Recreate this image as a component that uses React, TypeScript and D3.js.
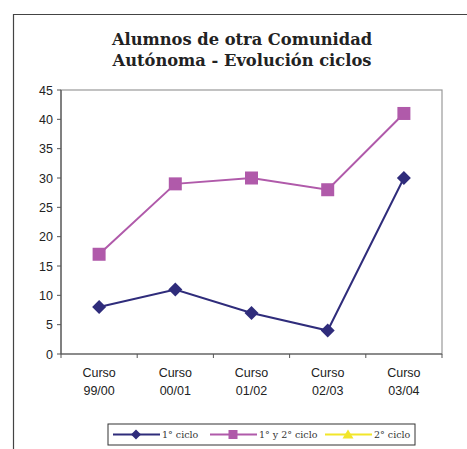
import React from "react";
import * as d3 from "d3";

const categories = ["Curso 99/00", "Curso 00/01", "Curso 01/02", "Curso 02/03", "Curso 03/04"];
const ciclo1 = [8, 11, 7, 4, 30];
const ciclo12 = [17, 29, 30, 28, 41];
const yTicks = [0, 5, 10, 15, 20, 25, 30, 35, 40, 45];
const titleLines = ["Alumnos de otra Comunidad", "Autónoma - Evolución ciclos"];
const legendLabels = ["1° ciclo", "1° y 2° ciclo", "2° ciclo"];

const W = 467, H = 449;
const plot = { left: 61, right: 442, top: 90, bottom: 354 };
const navy = "#2F2C7B";
const magenta = "#B05AAA";
const yellow = "#F2E62A";

export default function App() {
  const x = d3.scaleBand<string>().domain(categories).range([plot.left, plot.right]);
  const y = d3.scaleLinear().domain([0, 45]).range([plot.bottom, plot.top]);
  const cx = (c: string) => (x(c) as number) + x.bandwidth() / 2;
  const line = d3.line<number>().x((_, i) => cx(categories[i])).y((v) => y(v));
  const diamond = (px: number, py: number, r: number) =>
    `M${px},${py - r}L${px + r},${py}L${px},${py + r}L${px - r},${py}Z`;

  const legendX = 108, legendY = 424, legendW = 307, legendH = 21;
  const legItems = [
    { x: 0, color: navy, marker: "d", label: legendLabels[0] },
    { x: 97, color: magenta, marker: "s", label: legendLabels[1] },
    { x: 212, color: yellow, marker: "t", label: legendLabels[2] },
  ];

  return (
    <svg width={W} height={H} style={{ position: "absolute", left: 0, top: 0, background: "#fff" }}>
      {/* outer frame */}
      <path d={`M13.5,${H}V14.5H${W}`} fill="none" stroke="#444" strokeWidth={1.2} />
      {/* title */}
      {titleLines.map((t, i) => (
        <text key={i} x={242} y={45 + i * 21} textAnchor="middle"
          fontFamily="'DejaVu Serif', serif" fontWeight="bold" fontSize={16.3} fill="#222">{t}</text>
      ))}
      {/* plot border */}
      <rect x={plot.left} y={plot.top} width={plot.right - plot.left} height={plot.bottom - plot.top}
        fill="none" stroke="#999" strokeWidth={1.2} />
      {/* axes */}
      <line x1={plot.left} x2={plot.left} y1={plot.top} y2={plot.bottom} stroke="#555" strokeWidth={1.2} />
      <line x1={plot.left} x2={plot.right} y1={plot.bottom} y2={plot.bottom} stroke="#555" strokeWidth={1.2} />
      {yTicks.map((t) => (
        <g key={t}>
          <line x1={plot.left - 4} x2={plot.left} y1={y(t)} y2={y(t)} stroke="#555" />
          <text x={plot.left - 8} y={y(t) + 4.5} textAnchor="end" fontFamily="'Liberation Sans', Arial, sans-serif"
            fontSize={12.5} fill="#222">{t}</text>
        </g>
      ))}
      {categories.map((c, i) => (
        <g key={c}>
          <line x1={(x(c) as number)} x2={(x(c) as number)} y1={plot.bottom} y2={plot.bottom + 4} stroke="#555" />
          {i === categories.length - 1 && (
            <line x1={plot.right} x2={plot.right} y1={plot.bottom} y2={plot.bottom + 4} stroke="#555" />
          )}
          {c.split(" ").map((p, j) => (
            <text key={j} x={cx(c)} y={377 + j * 18} textAnchor="middle"
              fontFamily="'Liberation Sans', Arial, sans-serif" fontSize={12.5} fill="#222">{p}</text>
          ))}
        </g>
      ))}
      {/* series */}
      <path d={line(ciclo12) || ""} fill="none" stroke={magenta} strokeWidth={2} />
      {ciclo12.map((v, i) => (
        <rect key={i} x={cx(categories[i]) - 6.5} y={y(v) - 6.5} width={13} height={13} fill={magenta} />
      ))}
      <path d={line(ciclo1) || ""} fill="none" stroke={navy} strokeWidth={2} />
      {ciclo1.map((v, i) => (
        <path key={i} d={diamond(cx(categories[i]), y(v), 7)} fill={navy} />
      ))}
      {/* legend */}
      <rect x={legendX} y={legendY} width={legendW} height={legendH} fill="#fff" stroke="#333" strokeWidth={1} />
      {legItems.map((it) => {
        const lx = legendX + 5 + it.x;
        const my = legendY + legendH / 2;
        const mx = lx + 23;
        return (
          <g key={it.label}>
            <line x1={lx} x2={lx + 47} y1={my} y2={my} stroke={it.color} strokeWidth={2} />
            {it.marker === "d" && <path d={diamond(mx, my, 5)} fill={it.color} />}
            {it.marker === "s" && <rect x={mx - 4.5} y={my - 4.5} width={9} height={9} fill={it.color} />}
            {it.marker === "t" && <path d={`M${mx},${my - 5}L${mx + 5.5},${my + 4}L${mx - 5.5},${my + 4}Z`} fill={it.color} />}
            <text x={lx + 49} y={my + 3.5} fontFamily="'DejaVu Serif', serif" fontSize={9.5} fill="#333">{it.label}</text>
          </g>
        );
      })}
    </svg>
  );
}
